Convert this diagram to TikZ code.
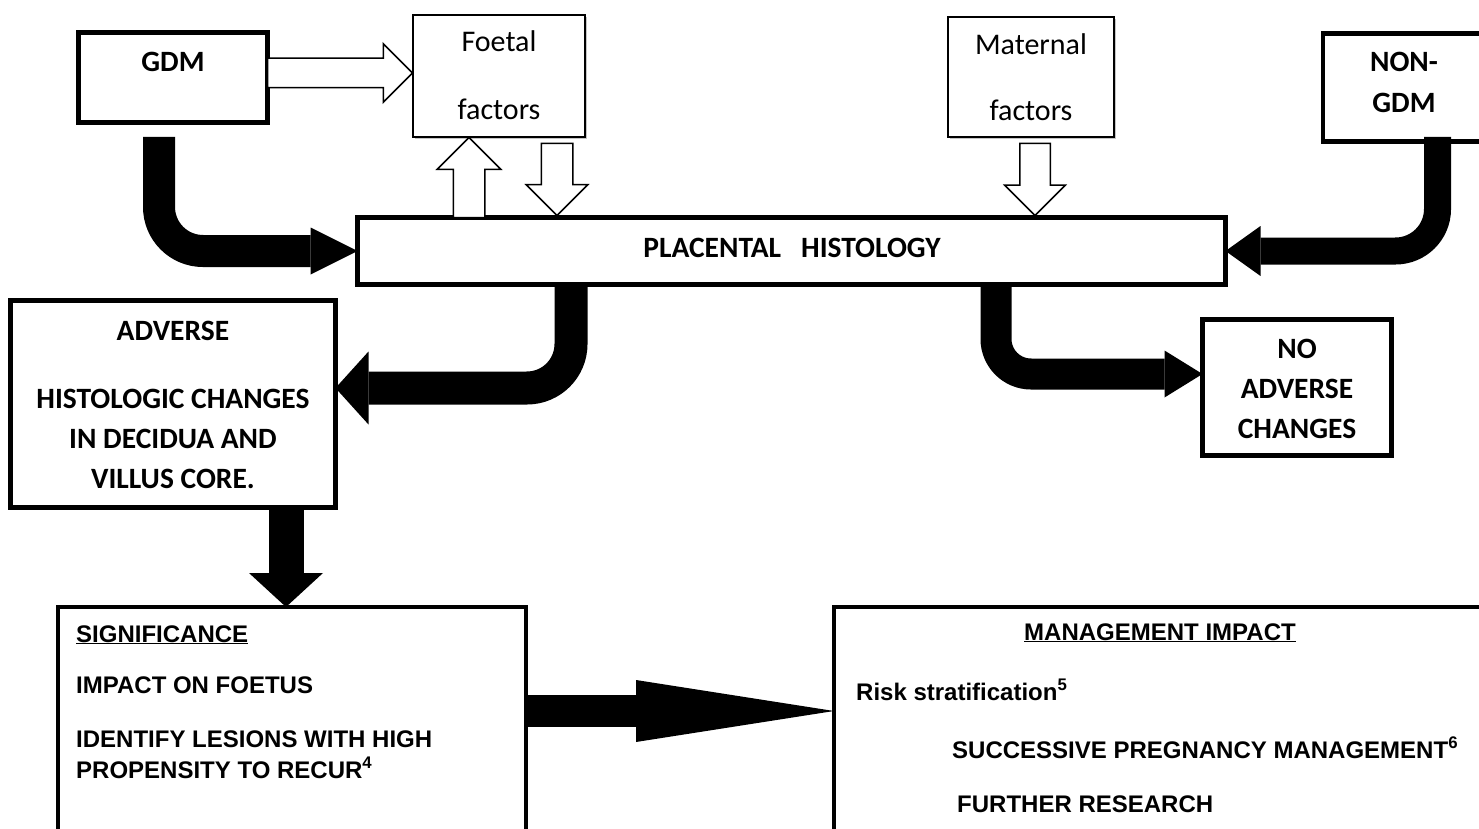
\documentclass[tikz,border=0pt]{standalone}
\usepackage{fontspec}
\setmainfont{Carlito}
\newfontfamily\arl{Liberation Sans}
\usetikzlibrary{arrows.meta,shapes.arrows,shadows}
\newcommand\myfs[1]{\fontsize{#1}{#1}\selectfont}
\tikzset{
  box/.style={draw, line width=4.5pt, fill=white, inner sep=0pt, outer sep=0pt},
  thinbox/.style={draw, line width=1.5pt, fill=white, inner sep=0pt, outer sep=0pt,
    drop shadow={shadow xshift=1.5pt, shadow yshift=-2.5pt, fill=black!45, opacity=0.5}},
  cal/.style={inner sep=0pt, anchor=base, font=\myfs{29.5}\bfseries},
  calr/.style={inner sep=0pt, anchor=base, font=\myfs{30}},
  ari/.style={inner sep=0pt, anchor=base west, font=\arl\myfs{24}\bfseries},
  hol/.style={single arrow, draw, fill=white, line width=1.5pt, inner xsep=0pt, outer sep=0pt, single arrow tip angle=90},
  blk/.style={draw=black, line cap=butt}
}
\begin{document}
\begin{tikzpicture}[x=1pt,y=-1pt]
\useasboundingbox (0,0) rectangle (1479,829);
\clip (0,0) rectangle (1479,829);
% boxes
\node[box, minimum width=189pt, minimum height=90pt] (gdm) at (173,77.5) {};
\node[thinbox, minimum width=172pt, minimum height=122pt] (foetal) at (499,76) {};
\node[thinbox, minimum width=166pt, minimum height=120pt] (maternal) at (1031,77) {};
\node[box, minimum width=216pt, minimum height=108pt] (nongdm) at (1431,87.5) {};
\node[box, minimum width=868pt, minimum height=67pt] (ph) at (791.5,251) {};
\node[box, minimum width=325pt, minimum height=207pt] (adverse) at (173,404) {};
\node[box, minimum width=189pt, minimum height=136pt] (noadverse) at (1297,387.5) {};
\node[box, line width=4pt, minimum width=468pt, minimum height=340pt] (significance) at (291.5,777) {};
\node[box, line width=4pt, minimum width=712pt, minimum height=340pt] (management) at (1190,777) {};
% texts
\node[cal] (gdmt) at (173,72) {GDM};
\node[calr] (foe1) at (499,52) {Foetal};
\node[calr] (foe2) at (499,120) {factors};
\node[calr] (mat1) at (1031,55) {Maternal};
\node[calr] (mat2) at (1031,121) {factors};
\node[cal] (non1) at (1404,72) {NON-};
\node[cal] (non2) at (1404,113) {GDM};
\node[cal] (pht) at (792,257) {PLACENTAL\ \ \ HISTOLOGY};
\node[cal] (adv1) at (173,340) {ADVERSE};
\node[cal] (adv2) at (173,408) {HISTOLOGIC CHANGES};
\node[cal] (adv3) at (173,448) {IN DECIDUA AND};
\node[cal] (adv4) at (173,488) {VILLUS CORE.};
\node[cal] (noa1) at (1297,358) {NO};
\node[cal] (noa2) at (1297,398) {ADVERSE};
\node[cal] (noa3) at (1297,438) {CHANGES};
\node[ari] (sig1) at (76,642) {\underline{SIGNIFICANCE}};
\node[ari] (sig2) at (76,693) {IMPACT ON FOETUS};
\node[ari] (sig3) at (76,747) {IDENTIFY LESIONS WITH HIGH};
\node[ari] (sig4) at (76,778) {PROPENSITY TO RECUR\textsuperscript{4}};
\node[ari, anchor=base] (man1) at (1160,640) {\underline{MANAGEMENT IMPACT}};
\node[ari] (man2) at (856,700) {Risk stratification\textsuperscript{5}};
\node[ari] (man3) at (952,758) {SUCCESSIVE PREGNANCY MANAGEMENT\textsuperscript{6}};
\node[ari] (man4) at (957,812) {FURTHER RESEARCH};
% hollow arrows
\node[hol, anchor=tail, inner ysep=14pt, single arrow head extend=14.5pt, minimum height=145pt] (h1) at ([yshift=4.5pt]gdm.east) {};
\node[hol, anchor=tail, rotate=90, inner ysep=15pt, single arrow head extend=16pt, minimum height=80pt] (h2) at ([xshift=111.5pt]ph.north west) {};
\node[hol, anchor=tip, rotate=-90, inner ysep=15pt, single arrow head extend=15pt, minimum height=72pt] (h3) at ([xshift=199.5pt,yshift=2pt]ph.north west) {};
\node[hol, anchor=tip, rotate=-90, inner ysep=14.5pt, single arrow head extend=15pt, minimum height=72pt] (h4) at ([xshift=677.5pt,yshift=2pt]ph.north west) {};
% named end points
\coordinate (gdmout) at ([xshift=80.5pt,yshift=-14.5pt]gdm.south west);
\coordinate (nonout) at ([xshift=114.5pt,yshift=4.5pt]nongdm.south west);
\coordinate (phl) at ([xshift=213.5pt]ph.south west);
\coordinate (phr) at ([xshift=638.5pt]ph.south west);
\coordinate (advin) at ([yshift=16pt]adverse.east);
\coordinate (noin) at ([yshift=13.5pt]noadverse.west);
\coordinate (advout) at ([xshift=113pt]adverse.south);
\coordinate (sigin) at ([xshift=-5.5pt]significance.north);
\coordinate (mgin) at (management.west |- 0,711);
% black arrows
\draw[blk, line width=32pt, rounded corners=44pt, -{Triangle[length=47pt,width=47pt,line width=0pt]}] (gdmout) |- (ph.west);
\draw[blk, line width=27pt, rounded corners=42pt, -{Triangle[length=35pt,width=50pt,line width=0pt]}] (nonout) |- (ph.east);
\draw[blk, line width=33pt, rounded corners=44pt, -{Triangle[length=33pt,width=73pt,line width=0pt]}] (phl) |- (advin);
\draw[blk, line width=31pt, rounded corners=35pt, -{Triangle[length=38pt,width=47pt,line width=0pt]}] (phr) |- (noin);
\draw[blk, line width=35pt, -{Triangle[length=34pt,width=74pt,line width=0pt]}] (advout) -- (sigin);
\draw[blk, line width=32pt, -{Triangle[length=198pt,width=62pt,line width=0pt]}] (significance.east |- mgin) -- (mgin);
\end{tikzpicture}
\end{document}
